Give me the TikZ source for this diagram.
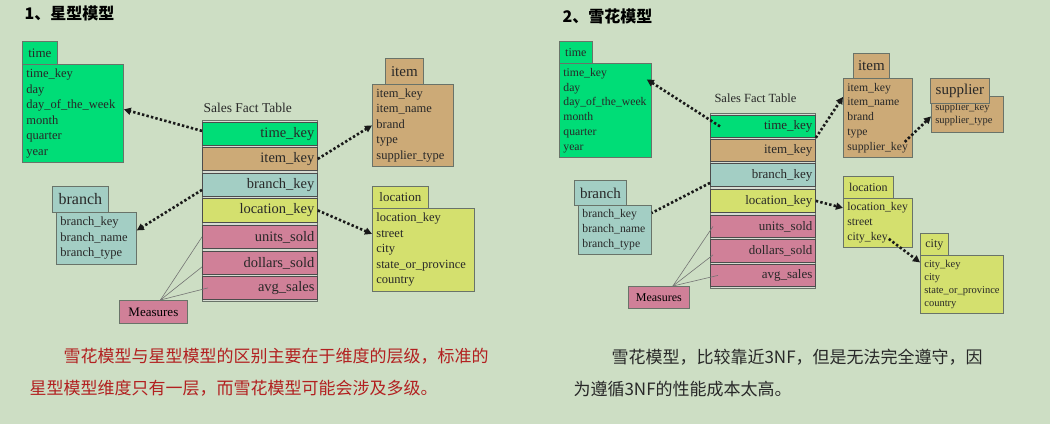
\documentclass[tikz,border=0pt]{standalone}
\usepackage{fontspec}
\setmainfont{Liberation Serif}
\newfontfamily\cjk{Noto Sans CJK SC}
\usetikzlibrary{arrows.meta}
\usepackage{xcolor}
\definecolor{SchemaBg}{RGB}{205,222,196}
\definecolor{SchemaGreen}{RGB}{0,221,119}
\definecolor{SchemaTan}{RGB}{204,170,119}
\definecolor{SchemaTeal}{RGB}{163,206,196}
\definecolor{SchemaYellow}{RGB}{212,224,110}
\definecolor{SchemaPink}{RGB}{208,128,152}
\definecolor{SchemaEdge}{RGB}{105,115,105}
\definecolor{SchemaGap}{RGB}{214,220,210}
\definecolor{SchemaInk}{RGB}{40,40,40}
\definecolor{SchemaRed}{RGB}{178,32,32}

\begin{document}
\begin{tikzpicture}[x=1pt,y=-1pt,
hdr/.style={rectangle,draw=SchemaEdge,line width=0.8pt,anchor=north west,inner sep=0pt,text=SchemaInk},
body/.style={rectangle,draw=SchemaEdge,line width=0.8pt,anchor=north west,align=left,
inner xsep=4pt,inner ysep=0pt,text=SchemaInk},
row/.style={rectangle,draw=black!70,line width=0.8pt,anchor=north west,align=right,
inner xsep=3pt,inner ysep=0pt,text=SchemaInk},
frame/.style={draw=SchemaEdge,line width=0.8pt,fill=SchemaGap},
link/.style={-{Triangle[length=7pt,width=7pt]},line width=2.6pt,dash pattern=on 2.4pt off 2.2pt,draw=black!90},
lead/.style={draw=black!55,line width=0.6pt},
fontL/.style={font=\fontsize{12.5}{15.5}\selectfont},
fontR/.style={font=\fontsize{11.7}{14.8}\selectfont},
fontS/.style={font=\fontsize{10.5}{13}\selectfont}
]
\fill[SchemaBg] (0,0) rectangle (1050,424);
\useasboundingbox (0,0) rectangle (1050,424);

% star schema
\node[anchor=west,font=\cjk\bfseries\fontsize{16}{16}\selectfont] (titleL) at (21,13) {1、星型模型};
\node[body,fontL,fill=SchemaGreen,text width=93pt,minimum height=98pt] (timeL) at (22,64)
{time\_key\\day\\day\_of\_the\_week\\month\\quarter\\year};
\node[hdr,fill=SchemaGreen,minimum width=35pt,minimum height=23pt,font=\fontsize{13}{13}\selectfont] (timeHL) at (22,41) {time};
\node[body,fontL,fill=SchemaTan,text width=73pt,minimum height=82pt] (itemL) at (372,84)
{item\_key\\item\_name\\brand\\type\\supplier\_type};
\node[hdr,fill=SchemaTan,minimum width=38pt,minimum height=26pt,font=\fontsize{15}{15}\selectfont] (itemHL) at (385,58) {item};
\node[body,fontL,fill=SchemaYellow,text width=94pt,minimum height=83pt] (locL) at (372,208)
{location\_key\\street\\city\\state\_or\_province\\country};
\node[hdr,fill=SchemaYellow,minimum width=56pt,minimum height=22pt,font=\fontsize{13}{13}\selectfont] (locHL) at (372,186) {location};
\node[body,fontL,fill=SchemaTeal,text width=72pt,minimum height=52pt] (branchL) at (56,212)
{branch\_key\\branch\_name\\branch\_type};
\node[hdr,fill=SchemaTeal,minimum width=56pt,minimum height=26pt,font=\fontsize{16}{16}\selectfont] (branchHL) at (52,186) {branch};
\node[hdr,fill=SchemaPink,minimum width=68pt,minimum height=23pt,font=\fontsize{13}{13}\selectfont,text=black] (measL) at (119,300) {Measures};

\node[anchor=west,font=\fontsize{13.5}{13.5}\selectfont,text=SchemaInk] (factL) at (200,108) {Sales Fact Table};
\draw[frame] (202,120) rectangle (317,301);
\begin{scope}[every node/.style={row,text width=109pt,font=\fontsize{14.5}{14.5}\selectfont}]
\node[fill=SchemaGreen,minimum height=23pt] (tkL) at (202,122) {time\_key};
\node[fill=SchemaTan,minimum height=23pt] (ikL) at (202,147) {item\_key};
\node[fill=SchemaTeal,minimum height=23pt] (bkL) at (202,173) {branch\_key};
\node[fill=SchemaYellow,minimum height=24pt] (lkL) at (202,198) {location\_key};
\node[fill=SchemaPink,minimum height=23pt] (usL) at (202,225) {units\_sold};
\node[fill=SchemaPink,minimum height=23pt] (dsL) at (202,251) {dollars\_sold};
\node[fill=SchemaPink,minimum height=23pt] (asL) at (202,276) {avg\_sales};
\end{scope}

\draw[link] ([yshift=3pt]tkL.west) -- ([yshift=4pt]timeL.east);
\draw[link] (ikL.east) -- (itemL.west);
\draw[link] ([yshift=-5pt]bkL.west) -- ([yshift=8pt]branchL.east);
\draw[link] (lkL.east) -- ([yshift=16pt]locL.west);
\draw[lead] ([xshift=7pt]measL.north) -- (usL.west);
\draw[lead] ([xshift=7pt]measL.north) -- ([yshift=-4pt]dsL.west);
\draw[lead] ([xshift=7pt]measL.north) -- ([xshift=6pt]asL.west);

% snowflake schema
\node[anchor=west,font=\cjk\bfseries\fontsize{16}{16}\selectfont] (titleR) at (559,16) {2、雪花模型};
\node[body,fontR,fill=SchemaGreen,text width=84pt,minimum height=94pt] (timeR) at (559,63)
{time\_key\\day\\day\_of\_the\_week\\month\\quarter\\year};
\node[hdr,fill=SchemaGreen,minimum width=33pt,minimum height=22pt,font=\fontsize{12}{12}\selectfont] (timeHR) at (559,41) {time};
\node[body,fontR,fill=SchemaTan,text width=61pt,minimum height=79pt] (itemR) at (843,78)
{item\_key\\item\_name\\brand\\type\\supplier\_key};
\node[hdr,fill=SchemaTan,minimum width=36pt,minimum height=25pt,font=\fontsize{15}{15}\selectfont] (itemHR) at (853,53) {item};
\node[body,fontS,fill=SchemaTan,text width=64pt,minimum height=36pt] (supR) at (931,96)
{supplier\_key\\supplier\_type};
\node[hdr,fill=SchemaTan,minimum width=59pt,minimum height=25pt,font=\fontsize{15}{15}\selectfont] (supHR) at (930,78) {supplier};
\node[body,fontR,fill=SchemaYellow,text width=61pt,minimum height=49pt] (locR) at (843,198)
{location\_key\\street\\city\_key};
\node[hdr,fill=SchemaYellow,minimum width=50pt,minimum height=22pt,font=\fontsize{12}{12}\selectfont] (locHR) at (843,176) {location};
\node[body,fontS,fill=SchemaYellow,text width=75pt,minimum height=58pt] (cityR) at (920,255)
{city\_key\\city\\state\_or\_province\\country};
\node[hdr,fill=SchemaYellow,minimum width=28pt,minimum height=22pt,font=\fontsize{12}{12}\selectfont] (cityHR) at (920,233) {city};
\node[body,fontR,fill=SchemaTeal,text width=65pt,minimum height=49pt] (branchR) at (578,205)
{branch\_key\\branch\_name\\branch\_type};
\node[hdr,fill=SchemaTeal,minimum width=52pt,minimum height=25pt,font=\fontsize{15}{15}\selectfont] (branchHR) at (574,180) {branch};
\node[hdr,fill=SchemaPink,minimum width=61pt,minimum height=22pt,font=\fontsize{12}{12}\selectfont,text=black] (measR) at (628,286) {Measures};

\node[anchor=west,font=\fontsize{12.5}{12.5}\selectfont,text=SchemaInk] (factR) at (711,98) {Sales Fact Table};
\draw[frame] (710,113) rectangle (815,288);
\begin{scope}[every node/.style={row,text width=99pt,font=\fontsize{13}{13}\selectfont}]
\node[fill=SchemaGreen,minimum height=22pt] (tkR) at (710,115) {time\_key};
\node[fill=SchemaTan,minimum height=22pt] (ikR) at (710,139) {item\_key};
\node[fill=SchemaTeal,minimum height=23pt] (bkR) at (710,163) {branch\_key};
\node[fill=SchemaYellow,minimum height=23pt] (lkR) at (710,189) {location\_key};
\node[fill=SchemaPink,minimum height=22pt] (usR) at (710,215) {units\_sold};
\node[fill=SchemaPink,minimum height=23pt] (dsR) at (710,239) {dollars\_sold};
\node[fill=SchemaPink,minimum height=22pt] (asR) at (710,264) {avg\_sales};
\end{scope}

\draw[link] ([xshift=10pt]tkR.west) -- ([xshift=-5pt,yshift=31pt]timeR.east);
\draw[link] (tkR.south east) -- ([yshift=21pt]itemR.west);
\draw[link] ([xshift=-8pt,yshift=-24pt]itemR.east) -- ([yshift=-2pt]supR.west);
\draw[link] (lkR.east) -- ([yshift=15pt]locR.west);
\draw[link] ([xshift=-24pt,yshift=-16pt]locR.east) -- ([yshift=22pt]cityR.west);
\draw[link,-] ([yshift=-8pt]bkR.west) -- ([yshift=17pt]branchR.east);
\draw[lead] ([xshift=14pt]measR.north) -- ([xshift=3pt]usR.west);
\draw[lead] ([xshift=14pt]measR.north) -- ([xshift=3pt,yshift=-4pt]dsR.west);
\draw[lead] ([xshift=14pt]measR.north) -- ([xshift=8pt]asR.west);

% notes
\node[anchor=west,text=SchemaRed,font=\cjk\fontsize{17}{17}\selectfont] (noteL1) at (60,356) {雪花模型与星型模型的区别主要在于维度的层级，标准的};
\node[anchor=west,text=SchemaRed,font=\cjk\fontsize{17}{17}\selectfont] (noteL2) at (26,388) {星型模型维度只有一层，而雪花模型可能会涉及多级。};
\node[anchor=west,text=SchemaInk,font=\cjk\fontsize{17}{17}\selectfont] (noteR1) at (608,357) {雪花模型，比较靠近3NF，但是无法完全遵守，因};
\node[anchor=west,text=SchemaInk,font=\cjk\fontsize{17}{17}\selectfont] (noteR2) at (570,389) {为遵循3NF的性能成本太高。};
\end{tikzpicture}
\end{document}
